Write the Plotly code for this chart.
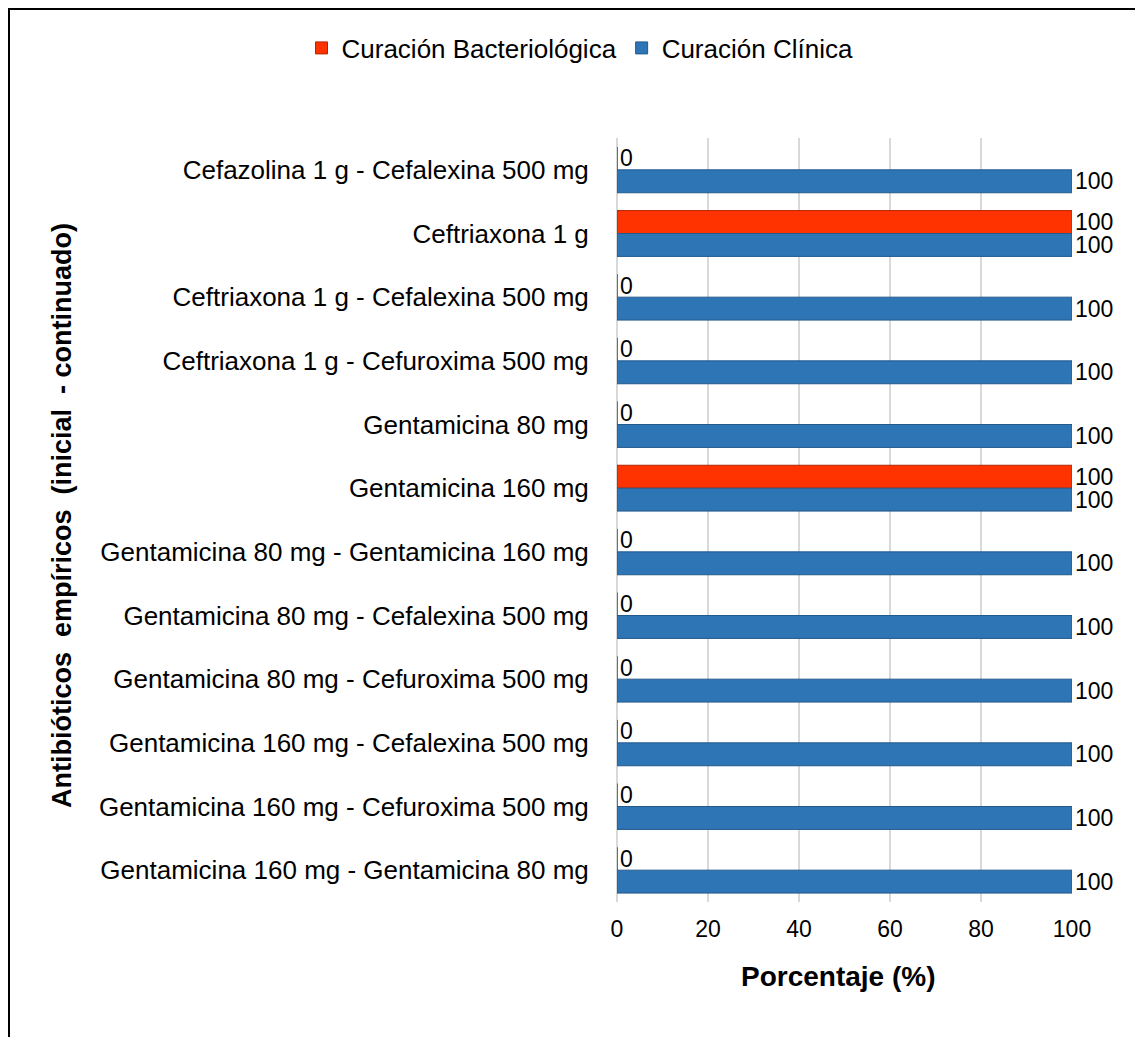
import plotly.graph_objects as go

categories = [
    "Cefazolina 1 g - Cefalexina 500 mg",
    "Ceftriaxona 1 g",
    "Ceftriaxona 1 g - Cefalexina 500 mg",
    "Ceftriaxona 1 g - Cefuroxima 500 mg",
    "Gentamicina 80 mg",
    "Gentamicina 160 mg",
    "Gentamicina 80 mg - Gentamicina 160 mg",
    "Gentamicina 80 mg - Cefalexina 500 mg",
    "Gentamicina 80 mg - Cefuroxima 500 mg",
    "Gentamicina 160 mg - Cefalexina 500 mg",
    "Gentamicina 160 mg - Cefuroxima 500 mg",
    "Gentamicina 160 mg - Gentamicina 80 mg",
]
bacteriologica = [0, 100, 0, 0, 0, 100, 0, 0, 0, 0, 0, 0]
clinica = [100, 100, 100, 100, 100, 100, 100, 100, 100, 100, 100, 100]
x_ticks = [0, 20, 40, 60, 80, 100]

# page body has an 8px margin; work in screen pixels and convert
OFF = 8
W, H = 1143 - OFF, 1037 - OFF
L, R, T, B = 617 - OFF, 1072 - OFF, 138 - OFF, 902 - OFF


def px_x(p):
    return (p - OFF - L) / (R - L)


def px_y(p):
    return 1 - (p - OFF - T) / (B - T)


FONT = "Arial, Liberation Sans, sans-serif"

fig = go.Figure()
fig.add_trace(go.Bar(
    name="Curación Bacteriológica", y=categories, x=bacteriologica,
    orientation="h", marker=dict(color="#FF3300", line=dict(color="#B32400", width=1)),
    text=[str(v) for v in bacteriologica], textposition="outside",
    textfont=dict(size=23, color="black", family=FONT), cliponaxis=False,
    constraintext="none",
))
fig.add_trace(go.Bar(
    name="Curación Clínica", y=categories, x=clinica,
    orientation="h", marker=dict(color="#2E75B6", line=dict(color="#235A8C", width=1)),
    text=[str(v) for v in clinica], textposition="outside",
    textfont=dict(size=23, color="black", family=FONT), cliponaxis=False,
    constraintext="none",
))

line_black = dict(color="black", width=3)
shapes = [
    dict(type="line", xref="paper", yref="paper", x0=px_x(7), x1=px_x(1143),
         y0=px_y(8.5), y1=px_y(8.5), line=line_black),
    dict(type="line", xref="paper", yref="paper", x0=px_x(8.5), x1=px_x(8.5),
         y0=px_y(7), y1=px_y(1037), line=line_black),
    dict(type="line", xref="paper", yref="paper", x0=px_x(1140.5), x1=px_x(1140.5),
         y0=px_y(8.5), y1=px_y(1037), line=dict(color="#777777", width=2)),
]

fig.update_layout(
    width=W, height=H,
    margin=dict(l=L, r=W - R, t=T, b=H - B, autoexpand=False),
    paper_bgcolor="white", plot_bgcolor="white",
    barmode="group", bargap=0.28, bargroupgap=0,
    font=dict(family=FONT, color="black"),
    legend=dict(orientation="h", x=px_x(580), y=px_y(48), xanchor="center",
                yanchor="middle", font=dict(size=26, family=FONT), traceorder="normal",
                itemwidth=30, bgcolor="rgba(0,0,0,0)"),
    xaxis=dict(range=[0, 100], tickvals=x_ticks, showgrid=True, gridcolor="#D9D9D9",
               gridwidth=2, zeroline=True, zerolinecolor="#D9D9D9", zerolinewidth=2,
               showline=False, ticks="outside", ticklen=6,
               tickcolor="rgba(0,0,0,0)", tickfont=dict(size=23, family=FONT)),
    yaxis=dict(autorange="reversed", showgrid=False, zeroline=False, showline=False,
               ticks="outside", ticklen=22, tickcolor="rgba(0,0,0,0)",
               tickfont=dict(size=26, family=FONT)),
    shapes=shapes,
    annotations=[
        dict(text="<b>Porcentaje (%)</b>", xref="paper", yref="paper",
             x=px_x(838), y=px_y(976), xanchor="center", yanchor="middle",
             showarrow=False, font=dict(size=28, family=FONT)),
        dict(text="<b>Antibióticos  empíricos  (inicial  - continuado)</b>", xref="paper",
             yref="paper", x=px_x(62), y=px_y(516), xanchor="center", yanchor="middle",
             textangle=-90, showarrow=False, font=dict(size=27, family=FONT)),
    ],
)

fig.write_html("out.html")
